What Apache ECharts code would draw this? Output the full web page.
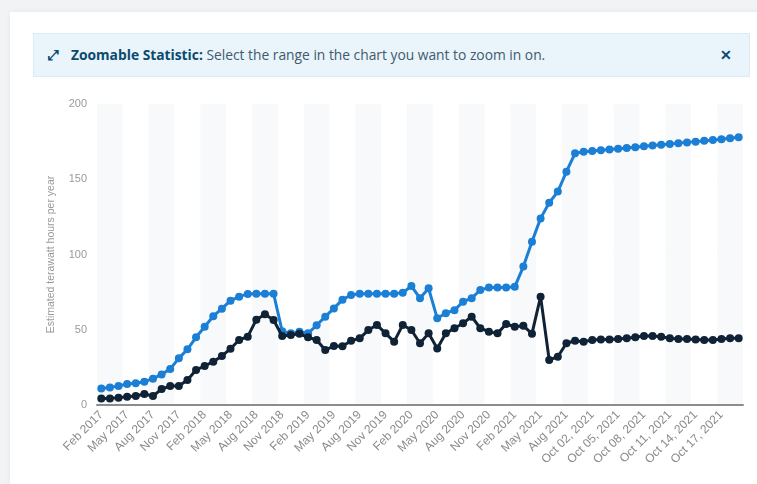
<!DOCTYPE html>
<html>
<head>
<meta charset="utf-8">
<script src="https://cdn.jsdelivr.net/npm/echarts@6/dist/echarts.min.js"></script>
<style>
  html, body { margin:0; padding:0; width:757px; height:484px; overflow:hidden; background:#f2f3f5; }
  #card { position:absolute; left:10px; top:12px; width:760px; height:480px; background:#fff; box-shadow:0 0 6px rgba(0,0,0,0.06); }
  #chart { position:absolute; left:0; top:0; width:757px; height:484px; }
  #banner { position:absolute; left:33px; top:33px; width:717px; height:44px; background:#e9f4fb; border:1px solid #dcebf5; box-sizing:border-box;
            font-family:"Open Sans", sans-serif; font-size:13.8px; color:#3f5b6d; line-height:42px; z-index:5; }
  #banner .ic { position:absolute; left:14px; top:0; color:#0b4a6e; font-size:14px; font-weight:bold; }
  #banner .t { position:absolute; left:37px; top:0; white-space:nowrap; }
  #banner b { color:#0b4a6e; font-weight:700; }
  #banner .x { position:absolute; right:17px; top:0; color:#0b4a6e; font-weight:700; font-size:14px; }
</style>
</head>
<body>
<div id="card"></div>
<div id="chart"></div>
<div id="banner"><span class="ic">&#x2922;</span><span class="t"><b>Zoomable Statistic:</b> Select the range in the chart you want to zoom in on.</span><span class="x">&#x2715;</span></div>
<script>
const categories = [
  "Feb 2017","Mar 2017","Apr 2017","May 2017","Jun 2017","Jul 2017","Aug 2017","Sep 2017","Oct 2017","Nov 2017","Dec 2017","Jan 2018",
  "Feb 2018","Mar 2018","Apr 2018","May 2018","Jun 2018","Jul 2018","Aug 2018","Sep 2018","Oct 2018","Nov 2018","Dec 2018","Jan 2019",
  "Feb 2019","Mar 2019","Apr 2019","May 2019","Jun 2019","Jul 2019","Aug 2019","Sep 2019","Oct 2019","Nov 2019","Dec 2019","Jan 2020",
  "Feb 2020","Mar 2020","Apr 2020","May 2020","Jun 2020","Jul 2020","Aug 2020","Sep 2020","Oct 2020","Nov 2020","Dec 2020","Jan 2021",
  "Feb 2021","Mar 2021","Apr 2021","May 2021","Jun 2021","Jul 2021","Aug 2021","Sep 2021","Oct 01, 2021",
  "Oct 02, 2021","Oct 03, 2021","Oct 04, 2021","Oct 05, 2021","Oct 06, 2021","Oct 07, 2021","Oct 08, 2021","Oct 09, 2021",
  "Oct 10, 2021","Oct 11, 2021","Oct 12, 2021","Oct 13, 2021","Oct 14, 2021","Oct 15, 2021","Oct 16, 2021","Oct 17, 2021",
  "Oct 18, 2021","Oct 19, 2021"
];
const maximumTWh = [
  11, 11.7, 12.6, 14, 14.4, 15.5, 17.5, 20.3, 24, 31, 37, 45,
  52, 59, 64, 69.3, 72, 73.8, 74, 74, 74, 49, 47.6, 48.7,
  47.6, 53, 58.7, 64.2, 70, 73.1, 74, 74, 74, 74, 74, 74.6,
  79, 71, 77.5, 57.6, 61, 63, 68.6, 71, 76.4, 78, 78, 78,
  78.5, 92, 108.5, 124, 134.4, 141.8, 155, 167.2, 168.3,
  168.7, 169.2, 169.8, 170.3, 170.8, 171.3, 171.9, 172.4,
  172.9, 173.4, 174, 174.5, 175, 175.5, 176.1, 176.6,
  177.2, 177.9
];
const estimatedTWh = [
  4.4, 4.4, 4.9, 5.5, 6, 7.3, 6, 10.6, 12.6, 12.6, 16.6, 23.3,
  25.9, 28.8, 32.5, 37.4, 43.2, 45.4, 56.7, 60.3, 56.5, 45.8, 46.5, 47.3,
  45, 43.2, 36.5, 39.2, 39, 42.7, 44.3, 49.8, 53.2, 47.6, 42.1, 53.2,
  49.8, 41, 47.6, 37.6, 47.6, 51, 54.3, 58.7, 51, 48.7, 47.6, 53.8,
  52, 52.6, 47.4, 72, 29.9, 32.1, 41, 42.7, 42.1,
  43.2, 43.6, 43.6, 43.9, 44.3, 45, 45.8, 45.8,
  45.4, 44.3, 43.9, 43.9, 43.6, 43.2, 43.2, 43.9,
  44.3, 44.3
];
const yTicks = { min: 0, max: 200, interval: 50 };

const chart = echarts.init(document.getElementById('chart'), null, { renderer: 'canvas' });
chart.setOption({
  animation: false,
  backgroundColor: 'transparent',
  grid: { left: 97, right: 14, top: 104, bottom: 79 },
  xAxis: {
    type: 'category',
    data: categories,
    boundaryGap: true,
    axisLine: { show: true, lineStyle: { color: '#8c8c8c', width: 2 } },
    axisTick: { show: false },
    axisLabel: { interval: 2, rotate: 45, color: '#8a8a8a', fontSize: 12, fontFamily: 'Liberation Sans, Arial, sans-serif', margin: 8 },
    splitLine: { show: false },
    splitArea: { show: true, interval: 2, areaStyle: { color: ['#f8f9fa', '#ffffff'] } }
  },
  yAxis: {
    type: 'value',
    min: yTicks.min, max: yTicks.max, interval: yTicks.interval,
    name: 'Estimated terawatt hours per year',
    nameLocation: 'middle',
    nameGap: 40,
    nameTextStyle: { color: '#9a9a9a', fontSize: 10.5, fontFamily: 'Liberation Sans, Arial, sans-serif' },
    axisLine: { show: false },
    axisTick: { show: false },
    axisLabel: { color: '#9a9a9a', fontSize: 11, fontFamily: 'Liberation Sans, Arial, sans-serif', margin: 10 },
    splitLine: { show: true, lineStyle: { color: '#d9d9d9', type: [2, 2], width: 1 } }
  },
  series: [
    {
      name: 'Maximum', type: 'line', data: maximumTWh, z: 3,
      symbol: 'circle', symbolSize: 8, showAllSymbol: true,
      lineStyle: { color: '#1b7fd6', width: 3 },
      itemStyle: { color: '#1b7fd6' }
    },
    {
      name: 'Estimated', type: 'line', data: estimatedTWh, z: 4,
      symbol: 'circle', symbolSize: 8, showAllSymbol: true,
      lineStyle: { color: '#0f2236', width: 3 },
      itemStyle: { color: '#0f2236' }
    }
  ]
});
</script>
</body>
</html>
